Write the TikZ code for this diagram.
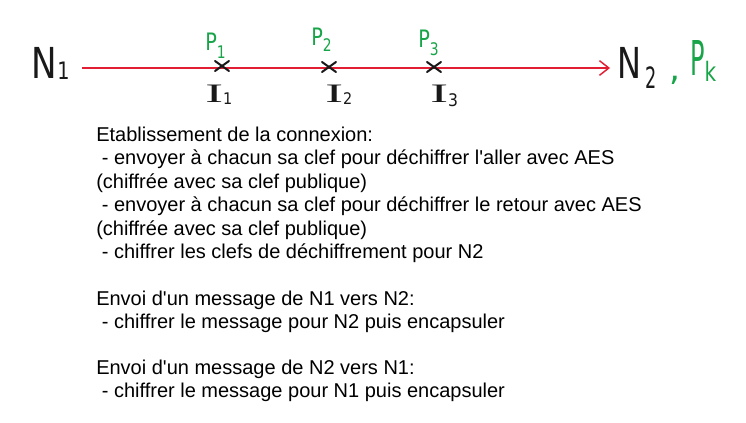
\documentclass[tikz,border=0pt]{standalone}
\usepackage{fontspec}
\usetikzlibrary{arrows.meta,calc}
\setmainfont{Liberation Sans}
\newfontfamily\bodyfont{Liberation Sans}
\newfontfamily\handfont{DejaVu Sans}
\newfontfamily\handserif{Liberation Serif}
\definecolor{penred}{RGB}{226,30,52}
\definecolor{pengreen}{RGB}{24,164,72}
\definecolor{penblack}{RGB}{25,25,25}
% #1 xscale, #2 size (pt), #3 text
\newcommand{\hw}[3]{\scalebox{#1}[1]{\fontsize{#2}{#2}\selectfont #3}}
\begin{document}
\begin{tikzpicture}[x=0.75pt,y=-0.75pt,
  txt/.style={anchor=base west,inner sep=0pt,font=\bodyfont\fontsize{15}{17}\selectfont,text=black},
  hand/.style={anchor=base west,inner sep=0pt,font=\handfont,text=penblack},
  handg/.style={anchor=base west,inner sep=0pt,font=\handfont,text=pengreen},
  handi/.style={anchor=base west,inner sep=0pt,font=\handserif,text=penblack},
  cross/.style={penblack,line width=1.5pt,line cap=round}]
\useasboundingbox (0,0) rectangle (746,422);
\fill[white] (0,0) rectangle (746,422);
% handwritten row
\node[hand] (n1) at (31,78) {\hw{0.8}{32}{N}\hspace{0.5pt}\raisebox{-1pt}{\hw{0.8}{18}{1}}};
\coordinate (a) at (82,68);
\coordinate (b) at (610,68);
\draw[penred,line width=1.1pt,-{Straight Barb[length=7pt,width=11pt]}] (a) -- (b);
\node[hand] (n2) at (617,78) {\hw{0.75}{32}{N}\hspace{3pt}\raisebox{-7.5pt}{\hw{0.6}{22}{2}}};
\node[handg] (comma) at (669,80) {\hw{1}{26}{,}};
\node[handg] (pk) at (690,75) {\hw{0.5}{36}{P}\raisebox{-5pt}{\hw{0.75}{20}{k}}};
\foreach \i/\x/\y in {1/222/66,2/329/67,3/434/67}{
  \coordinate (c\i) at (\x,\y);
  \draw[cross] ($(c\i)+(-7,-5)$) -- ($(c\i)+(7,5)$);
  \draw[cross] ($(c\i)+(-7,5)$) -- ($(c\i)+(7,-5)$);
}
\node[handg] (p1) at (205,50) {\hw{0.8}{18}{P}\raisebox{-6pt}{\hw{0.8}{13}{1}}};
\node[handg] (p2) at (311,45) {\hw{0.8}{18}{P}\raisebox{-5pt}{\hw{0.8}{13}{2}}};
\node[handg] (p3) at (418,47) {\hw{0.8}{18}{P}\raisebox{-6pt}{\hw{0.8}{13}{3}}};
\node[handi] (i1) at (205,102) {\hw{2}{20}{I}\raisebox{-2pt}{\hw{0.9}{12}{\handfont 1}}};
\node[handi] (i2) at (325,102) {\hw{2}{20}{I}\raisebox{-2pt}{\hw{0.9}{12}{\handfont 2}}};
\node[handi] (i3) at (430,102) {\hw{2}{20}{I}\raisebox{-3pt}{\hw{0.9}{13}{\handfont 3}}};
% text block
\node[txt] (t1) at (96,141) {Etablissement de la connexion:};
\node[txt] (t2) at (96,164.5) {\ - envoyer à chacun sa clef pour déchiffrer l'aller avec AES};
\node[txt] (t3) at (96,188) {(chiffrée avec sa clef publique)};
\node[txt] (t4) at (96,211.5) {\ - envoyer à chacun sa clef pour déchiffrer le retour avec AES};
\node[txt] (t5) at (96,235) {(chiffrée avec sa clef publique)};
\node[txt] (t6) at (96,258.5) {\ - chiffrer les clefs de déchiffrement pour N2};
\node[txt] (t7) at (96,305) {Envoi d'un message de N1 vers N2:};
\node[txt] (t8) at (96,328) {\ - chiffrer le message pour N2 puis encapsuler};
\node[txt] (t9) at (96,374) {Envoi d'un message de N2 vers N1:};
\node[txt] (t10) at (96,397) {\ - chiffrer le message pour N1 puis encapsuler};
\end{tikzpicture}
\end{document}
